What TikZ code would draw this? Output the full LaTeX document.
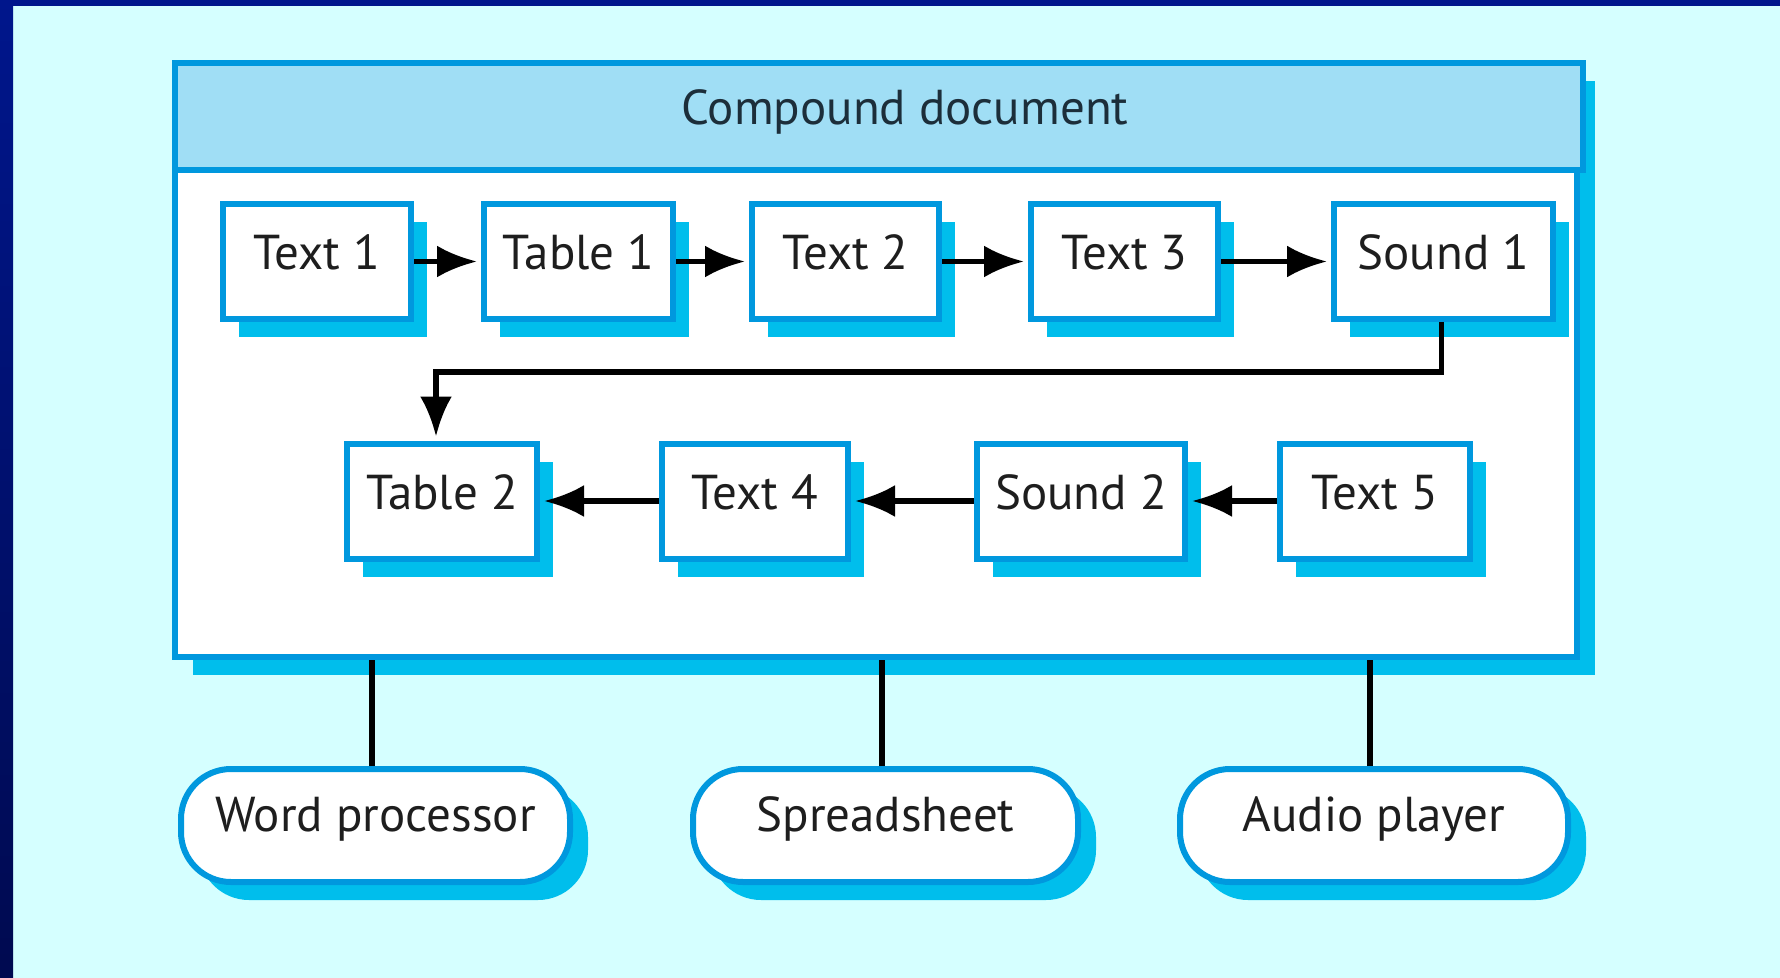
\documentclass[tikz,border=0pt]{standalone}
\usepackage{fontspec}
\setmainfont{PT Sans}
\usetikzlibrary{arrows.meta,shadows}
\definecolor{bgc}{HTML}{D5FFFF}
\definecolor{navyc}{HTML}{00168C}
\definecolor{navyd}{HTML}{000A50}
\definecolor{bluec}{HTML}{0098DE}
\definecolor{shadc}{HTML}{00BEEC}
\definecolor{headc}{HTML}{A0DEF5}
\definecolor{txtc}{HTML}{1E1E1E}
\definecolor{headtxt}{HTML}{1C2E3A}
\begin{document}
\begin{tikzpicture}[x=0.5pt,y=-0.5pt,
  every node/.style={font=\fontsize{24.5pt}{28pt}\selectfont, text=txtc},
  boxn/.style={draw=bluec, fill=white, line width=3pt, inner sep=0pt,
    text height=33pt, text depth=24.5pt,
    general shadow={fill=shadc, shadow xshift=8pt, shadow yshift=-9pt}},
  appn/.style={draw=bluec, fill=white, line width=3pt, inner sep=0pt,
    rounded corners=25pt, text height=31pt, text depth=25.5pt,
    general shadow={fill=shadc, shadow xshift=9pt, shadow yshift=-9pt}},
  arr/.style={line width=2.7pt, draw=black, -{Latex[length=20pt,width=16pt]}, shorten >=2pt},
  ln/.style={line width=3pt, draw=black}]
\useasboundingbox (0,0) rectangle (1780,978);
% background and frame
\fill[bgc] (0,0) rectangle (1780,978);
\fill[navyc] (0,0) rectangle (1780,6);
\shade[top color=navyc, bottom color=navyd] (0,0) rectangle (13,978);
% compound document
\node[draw=bluec, fill=white, line width=3pt, inner sep=0pt,
  minimum width=701pt, minimum height=297pt,
  general shadow={fill=shadc, shadow xshift=9pt, shadow yshift=-9pt}] (body) at (876,360) {};
\node[draw=bluec, fill=headc, line width=3pt, inner sep=0pt,
  minimum width=704pt, text height=31pt, text depth=22.5pt, text=headtxt] (header) at (879,116.5) {\hspace*{26pt}Compound document};
% row 1
\node[boxn, minimum width=94pt] (t1) at (317,261.5) {Text 1};
\node[boxn, minimum width=94.5pt] (tb1) at (578.5,261.5) {Table 1};
\node[boxn, minimum width=93.5pt] (t2) at (845.5,261.5) {Text 2};
\node[boxn, minimum width=93.5pt] (t3) at (1124.5,261.5) {Text 3};
\node[boxn, minimum width=109.5pt] (s1) at (1443.5,261.5) {Sound 1};
% row 2
\node[boxn, minimum width=95pt] (tb2) at (442,501) {Table 2};
\node[boxn, minimum width=93pt] (t4) at (755,501) {Text 4};
\node[boxn, minimum width=104pt] (s2) at (1081,501) {Sound 2};
\node[boxn, minimum width=95pt] (t5) at (1375,501) {Text 5};
% arrows
\draw[arr] (t1.east) -- (tb1.west);
\draw[arr] (tb1.east) -- (t2.west);
\draw[arr] (t2.east) -- (t3.west);
\draw[arr] (t3.east) -- (s1.west);
\draw[arr] ([xshift=-1pt]s1.south) -- ++(0,50) -| ([xshift=-3pt]tb2.north);
\draw[arr] (t5.west) -- (s2.east);
\draw[arr] (s2.west) -- (t4.east);
\draw[arr] (t4.west) -- (tb2.east);
% applications
\node[appn, minimum width=194.5pt] (wp) at (375.5,825.5) {Word processor};
\node[appn, minimum width=192.5pt] (ss) at (885.5,825.5) {Spreadsheet};
\node[appn, minimum width=194pt] (ap) at (1374,825.5) {Audio player};
\draw[ln] ([xshift=-2pt]wp.north) -- ([xshift=-2pt]wp.north |- body.south);
\draw[ln] ([xshift=-2pt]ss.north) -- ([xshift=-2pt]ss.north |- body.south);
\draw[ln] ([xshift=-2pt]ap.north) -- ([xshift=-2pt]ap.north |- body.south);
\end{tikzpicture}
\end{document}
